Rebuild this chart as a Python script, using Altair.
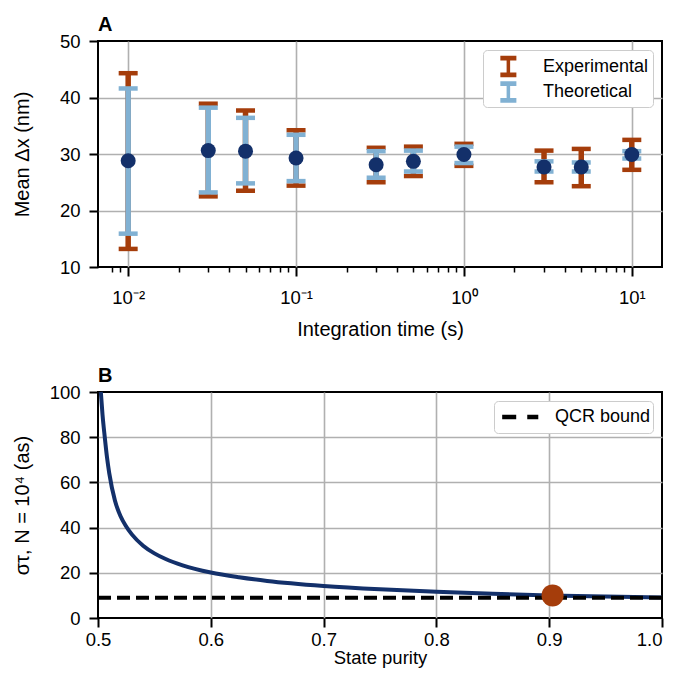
import altair as alt
import pandas as pd

# ---------------- Panel A data ----------------
t_s = [0.01, 0.03, 0.05, 0.1, 0.3, 0.5, 1, 3, 5, 10]
mean_dx = [28.8, 30.6, 30.5, 29.3, 28.1, 28.7, 29.9, 27.7, 27.7, 29.9]
exp_hi = [44.3, 38.9, 37.7, 34.2, 31.1, 31.3, 31.8, 30.6, 30.9, 32.5]
exp_lo = [13.2, 22.5, 23.5, 24.4, 25.0, 26.1, 27.9, 25.0, 24.3, 27.2]
theo_hi = [41.6, 38.2, 36.4, 33.4, 30.5, 30.6, 31.3, 28.7, 28.5, 30.5]
theo_lo = [15.9, 23.2, 24.8, 25.2, 25.8, 26.9, 28.4, 26.9, 26.9, 29.2]
series_names = ["Experimental", "Theoretical"]
x_ticks_A = [0.008, 0.009,
             0.01, 0.02, 0.03, 0.04, 0.05, 0.06, 0.07, 0.08, 0.09,
             0.1, 0.2, 0.3, 0.4, 0.5, 0.6, 0.7, 0.8, 0.9,
             1, 2, 3, 4, 5, 6, 7, 8, 9, 10]
y_ticks_A = [10, 20, 30, 40, 50]

# ---------------- Panel B data ----------------
purity = [0.5025, 0.504, 0.506, 0.508, 0.51, 0.515, 0.52, 0.525, 0.53, 0.54,
          0.55, 0.56, 0.575, 0.6, 0.625, 0.65, 0.7, 0.75, 0.8, 0.85,
          0.9, 0.95, 1.0]
sigma_as = [100, 90, 80, 71, 64, 52, 45, 40.5, 37, 32,
            28.6, 26.1, 23.3, 20.1, 18.0, 16.4, 14.2, 12.7, 11.6, 10.7,
            10.0, 9.5, 9.1]
qcr_purity = [0.5, 1.0]
qcr_sigma = [9.0, 9.0]
qcr_label = ["QCR bound", "QCR bound"]
dot_purity = [0.903]
dot_sigma = [10.0]
x_ticks_B = [0.5, 0.6, 0.7, 0.8, 0.9, 1.0]
y_ticks_B = [0, 20, 40, 60, 80, 100]

ORANGE = "#a53d0b"
LBLUE = "#81b1d3"
NAVY = "#13306a"
FONT = "Liberation Sans"
LAB = 18.5
TIT = 20
LEG = 18

err_df = pd.DataFrame({
    "t": t_s + t_s,
    "lo": exp_lo + theo_lo,
    "hi": exp_hi + theo_hi,
    "series": [series_names[0]] * len(t_s) + [series_names[1]] * len(t_s),
})
pts_df = pd.DataFrame({"t": t_s, "m": mean_dx})

LOGV = "(log(datum.value)/LN10)"
MAJOR = f"abs({LOGV} - round({LOGV})) < 0.001"
label_expr = (f"{MAJOR} ? (round({LOGV}) == -2 ? '10⁻²' : round({LOGV}) == -1 ? '10⁻¹' : "
              f"round({LOGV}) == 0 ? '10⁰' : '10¹') : ''")

xA_axis = alt.Axis(
    values=x_ticks_A, labelExpr=label_expr, labelOverlap=False, labelFlush=False,
    tickSize={"condition": {"test": MAJOR, "value": 9}, "value": 5},
    tickWidth={"condition": {"test": MAJOR, "value": 2}, "value": 1.5},
    gridOpacity={"condition": {"test": MAJOR, "value": 1}, "value": 0},
    title="Integration time (s)", labelPadding=12, titlePadding=13,
)
yA_axis = alt.Axis(
    values=y_ticks_A, title="Mean Δx (nm)",
    gridOpacity={"condition": {"test": "datum.value > 10 && datum.value < 50", "value": 1}, "value": 0},
    tickSize=9, labelPadding=9, titleX=-66, titleBaseline="bottom",
)
xA = alt.X("t:Q", scale=alt.Scale(type="log", domain=[0.00708, 14.13], nice=False), axis=xA_axis)
yscaleA = alt.Scale(domain=[10, 50], nice=False)
cscale = alt.Scale(domain=series_names, range=[ORANGE, LBLUE])

legendA = alt.Legend(
    title=None, orient="top-right", offset=9, padding=4,
    symbolType="M-1,0M0.07,-0.88H1.39V-0.49H0.875V0.49H1.39V0.88H0.07V0.49H0.585V-0.49H0.07Z",
    symbolSize=590, symbolStrokeWidth=0, labelOffset=31, rowPadding=1.5,
    labelFontSize=LEG, labelFont=FONT, labelColor="black",
    strokeColor="#cccccc", fillColor="white", cornerRadius=4,
)
colorA = alt.Color("series:N", scale=cscale, legend=legendA)

stems = alt.Chart(err_df).mark_bar(size=5.5, opacity=1).encode(
    x=xA, y=alt.Y("lo:Q", scale=yscaleA, axis=yA_axis), y2="hi:Q", color=colorA,
)
caps_lo = alt.Chart(err_df).mark_tick(orient="horizontal", size=19, thickness=4.5, opacity=1).encode(
    x=xA, y=alt.Y("lo:Q", scale=yscaleA, axis=yA_axis), color=colorA,
)
caps_hi = alt.Chart(err_df).mark_tick(orient="horizontal", size=19, thickness=4.5, opacity=1).encode(
    x=xA, y=alt.Y("hi:Q", scale=yscaleA, axis=yA_axis), color=colorA,
)
points = alt.Chart(pts_df).mark_circle(size=225, color=NAVY, opacity=1).encode(
    x=xA, y=alt.Y("m:Q", scale=yscaleA, axis=yA_axis),
)
panelA = alt.layer(stems, caps_lo, caps_hi, points).properties(
    width=564, height=226,
    title=alt.TitleParams("A", anchor="start", frame="group", offset=-3,
                          fontSize=20, fontWeight="bold", font=FONT),
)

# ---------------- Panel B ----------------
curve_df = pd.DataFrame({"p": purity, "s": sigma_as})
qcr_df = pd.DataFrame({"p": qcr_purity, "s": qcr_sigma, "label": qcr_label})
dot_df = pd.DataFrame({"p": dot_purity, "s": dot_sigma})

xB_axis = alt.Axis(
    values=x_ticks_B, format=".1f", title="State purity", labelFlush=False,
    labelAlign={"condition": {"test": "datum.value > 0.999", "value": "right"}, "value": "center"},
    gridOpacity={"condition": {"test": "datum.value > 0.501 && datum.value < 0.999", "value": 1}, "value": 0},
    tickSize=9, labelPadding=3, titlePadding=0, titleFontSize=18.5,
)
yB_axis = alt.Axis(
    values=y_ticks_B, title="στ, N = 10⁴ (as)",
    gridOpacity={"condition": {"test": "datum.value > 0 && datum.value < 100", "value": 1}, "value": 0},
    tickSize=9, labelPadding=9, titleX=-66, titleBaseline="bottom",
)
xB = alt.X("p:Q", scale=alt.Scale(domain=[0.5, 1.0], nice=False), axis=xB_axis)
yB = alt.Y("s:Q", scale=alt.Scale(domain=[0, 100], nice=False), axis=yB_axis)

curve = alt.Chart(curve_df).mark_line(color=NAVY, strokeWidth=4, interpolate="monotone").encode(x=xB, y=yB)
qcr = alt.Chart(qcr_df).mark_line(strokeWidth=4, strokeDash=[13, 6]).encode(
    x=xB, y=yB,
    color=alt.Color("label:N", scale=alt.Scale(domain=["QCR bound"], range=["black"]),
                    legend=alt.Legend(
                        title=None, orient="top-right", offset=9, padding=2,
                        symbolType="M0,-0.45M0,0.45M-0.68,0H0.54M1.5,0H2.46",
                        symbolSize=529, symbolStrokeWidth=4.3, labelOffset=31,
                        labelFontSize=LEG, labelFont=FONT, labelColor="black",
                        strokeColor="#cccccc", fillColor="white", cornerRadius=4,
                    )),
)
dot = alt.Chart(dot_df).mark_circle(size=484, color=ORANGE, opacity=1).encode(x=xB, y=yB)
panelB = alt.layer(curve, qcr, dot).properties(
    width=564, height=226,
    title=alt.TitleParams("B", anchor="start", frame="group", offset=-3,
                          fontSize=20, fontWeight="bold", font=FONT),
)

chart = alt.vconcat(panelA, panelB, spacing=24).resolve_scale(color="independent").properties(
    padding={"left": 2, "top": 6, "right": 0, "bottom": 0}
).configure_view(
    stroke="black", strokeWidth=2
).configure_axis(
    labelFont=FONT, titleFont=FONT, labelFontSize=LAB, titleFontSize=TIT,
    titleFontWeight="normal", labelColor="black", titleColor="black",
    tickColor="black", tickWidth=2, gridColor="#b0b0b0", gridWidth=1.6, domain=False,
)

chart.save("out.html", embed_options={"renderer": "svg", "actions": False})
